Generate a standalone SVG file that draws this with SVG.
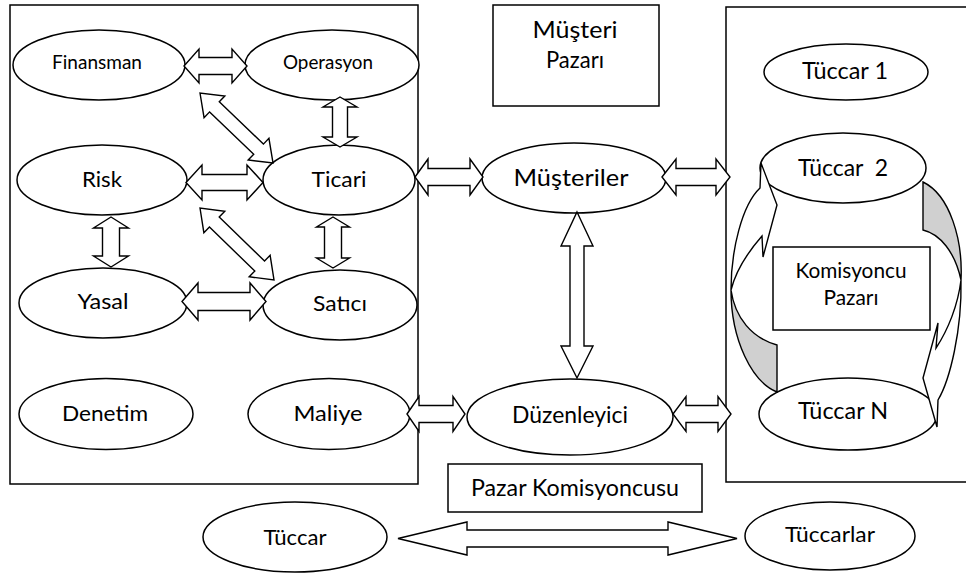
<svg xmlns="http://www.w3.org/2000/svg" width="966" height="574" viewBox="0 0 966 574">
<style>
.sh{fill:#fff;stroke:#000;stroke-width:1.5}
.ln{fill:none;stroke:#000;stroke-width:1.5}
.ar{fill:#fff;stroke:#000;stroke-width:1.4;stroke-linejoin:miter}
.gr{fill:#d0d0d0;stroke:#000;stroke-width:1.4}
text{font-family:Lato,"Open Sans","Liberation Sans",sans-serif;fill:#000;text-anchor:middle}
</style>
<rect width="966" height="574" fill="#fff"/>
<g id="containers">
<rect id="sirket-kutusu" class="sh" x="10" y="5" width="408" height="479"/>
<path id="komisyoncu-kutusu" class="ln" d="M 968,7 H 726 V 482 H 968"/>
</g>
<g id="musteri-pazari"><rect class="sh" x="493" y="5" width="166" height="101"/><text x="575" y="38" font-size="23" textLength="85" lengthAdjust="spacingAndGlyphs">Müşteri</text><text x="575" y="68" font-size="23" textLength="58" lengthAdjust="spacingAndGlyphs">Pazarı</text></g>
<g id="pazar-komisyoncusu"><rect class="sh" x="448" y="464" width="254" height="48"/><text x="575" y="496" font-size="23" textLength="208" lengthAdjust="spacingAndGlyphs">Pazar Komisyoncusu</text></g>

<g id="finansman"><ellipse class="sh" cx="99" cy="65" rx="86" ry="35"/><text x="97" y="69" font-size="18.5" textLength="90" lengthAdjust="spacingAndGlyphs">Finansman</text></g>
<g id="operasyon"><ellipse class="sh" cx="332" cy="65" rx="87" ry="35"/><text x="328" y="69" font-size="18.5" textLength="90" lengthAdjust="spacingAndGlyphs">Operasyon</text></g>
<g id="risk"><ellipse class="sh" cx="102" cy="180" rx="85" ry="35"/><text x="102" y="187" font-size="22" textLength="40" lengthAdjust="spacingAndGlyphs">Risk</text></g>
<g id="ticari"><ellipse class="sh" cx="339" cy="180" rx="76" ry="35"/><text x="339" y="187" font-size="22" textLength="55" lengthAdjust="spacingAndGlyphs">Ticari</text></g>
<g id="yasal"><ellipse class="sh" cx="103" cy="303" rx="84" ry="35"/><text x="103" y="309" font-size="22" textLength="51" lengthAdjust="spacingAndGlyphs">Yasal</text></g>
<g id="satici"><ellipse class="sh" cx="340" cy="305" rx="77" ry="35"/><text x="340" y="311" font-size="22" textLength="54" lengthAdjust="spacingAndGlyphs">Satıcı</text></g>
<g id="denetim"><ellipse class="sh" cx="106" cy="414" rx="87" ry="35.5"/><text x="105" y="421" font-size="22" textLength="86" lengthAdjust="spacingAndGlyphs">Denetim</text></g>
<g id="maliye"><ellipse class="sh" cx="329" cy="414" rx="81" ry="35.5"/><text x="328" y="421" font-size="22" textLength="69" lengthAdjust="spacingAndGlyphs">Maliye</text></g>
<g id="musteriler"><ellipse class="sh" cx="574" cy="178" rx="92" ry="35"/><text x="571" y="186" font-size="24" textLength="115" lengthAdjust="spacingAndGlyphs">Müşteriler</text></g>
<g id="duzenleyici"><ellipse class="sh" cx="570" cy="417" rx="103" ry="38"/><text x="570" y="423" font-size="23" textLength="116" lengthAdjust="spacingAndGlyphs">Düzenleyici</text></g>
<g id="tuccar-1"><ellipse class="sh" cx="846" cy="72" rx="82" ry="28"/><text x="845" y="79" font-size="23" textLength="86" lengthAdjust="spacingAndGlyphs">Tüccar 1</text></g>
<g id="tuccar-2"><ellipse class="sh" cx="843" cy="168" rx="83" ry="35"/><text x="843" y="176" font-size="23" textLength="90" lengthAdjust="spacingAndGlyphs" xml:space="preserve">Tüccar  2</text></g>
<g id="komisyoncu-pazari"><rect class="sh" x="773" y="247" width="157" height="83"/><text x="851" y="278" font-size="20.5" textLength="111" lengthAdjust="spacingAndGlyphs">Komisyoncu</text><text x="851" y="305" font-size="20.5" textLength="55" lengthAdjust="spacingAndGlyphs">Pazarı</text></g>
<g id="tuccar-n"><ellipse class="sh" cx="848" cy="414" rx="89" ry="36"/><text x="843" y="419" font-size="23" textLength="90" lengthAdjust="spacingAndGlyphs">Tüccar N</text></g>
<g id="tuccar"><ellipse class="sh" cx="295" cy="537" rx="92" ry="35"/><text x="295" y="545" font-size="22" textLength="63" lengthAdjust="spacingAndGlyphs">Tüccar</text></g>
<g id="tuccarlar"><ellipse class="sh" cx="830" cy="536" rx="85" ry="34"/><text x="830" y="542" font-size="22" textLength="90" lengthAdjust="spacingAndGlyphs">Tüccarlar</text></g>

<g id="dongu-oklari">
<g id="sol-egri-ok">
<path class="gr" d="M 777,345 L 777,392 C 752,382 731,340 731,290 C 735,318 752,338 777,345 Z"/>
<path class="ar" d="M 731,290 C 731,250 742,205 760,188 L 761,163 L 777,205 L 763,257 L 762,236 C 748,252 736,270 731,290 Z"/>
</g>
<g id="sag-egri-ok">
<path class="gr" d="M 923,182 L 923,230 C 940,234 955,252 961,280 C 963,240 950,195 923,182 Z"/>
<path class="ar" d="M 961,280 C 962,330 950,380 938,400 L 937,427 L 923,378 L 938,323 L 936,348 C 948,330 958,305 961,280 Z"/>
</g>
</g>

<g id="connectors">
<polygon class="ar" points="184,66 199,49 199,57.5 232,57.5 232,49 247,66 232,83 232,74.5 199,74.5 199,83"/>
<polygon class="ar" points="186,182.5 202,165 202,174.5 247,174.5 247,165 263,182.5 247,200 247,190.5 202,190.5 202,200"/>
<polygon class="ar" points="182,301.5 198,283 198,292.5 250,292.5 250,283 266,301.5 250,320 250,310.5 198,310.5 198,320"/>
<polygon class="ar" points="415,177 428,159 428,168.5 470,168.5 470,159 483,177 470,195 470,185.5 428,185.5 428,195"/>
<polygon class="ar" points="662,177 676,159 676,168.5 716,168.5 716,159 730,177 716,195 716,185.5 676,185.5 676,195"/>
<polygon class="ar" points="407,414 419,396.5 419,405.5 453,405.5 453,396.5 465,414 453,431.5 453,422.5 419,422.5 419,431.5"/>
<polygon class="ar" points="673,414 686,396.5 686,405.5 718,405.5 718,396.5 731,414 718,431.5 718,422.5 686,422.5 686,431.5"/>
<polygon class="ar" points="398,538.5 467,522 467,530 668,530 668,522 737,538.5 668,555 668,547 467,547 467,555"/>
<polygon class="ar" points="340,97 357,107 347.5,107 347.5,137 357,137 340,147 323,137 332.5,137 332.5,107 323,107"/>
<polygon class="ar" points="111,217 128.5,228 119.5,228 119.5,256 128.5,256 111,267 93.5,256 102.5,256 102.5,228 93.5,228"/>
<polygon class="ar" points="333,217 349.5,227 341.5,227 341.5,258 349.5,258 333,268 316.5,258 324.5,258 324.5,227 316.5,227"/>
<polygon class="ar" points="577,212 593,246 584,246 584,346 593,346 577,378 561,346 570,346 570,246 561,246"/>
<polygon class="ar" points="200,93 204.06,117.67 209.6,111.89 253.72,154.21 248.18,159.99 273,163 268.94,138.33 263.4,144.11 219.28,101.79 224.82,96.01"/>
<polygon class="ar" points="200,208 203.87,232.7 209.45,226.97 254.79,271.07 249.21,276.8 274,280 270.13,255.3 264.55,261.03 219.21,216.93 224.79,211.2"/>
</g>
</svg>
